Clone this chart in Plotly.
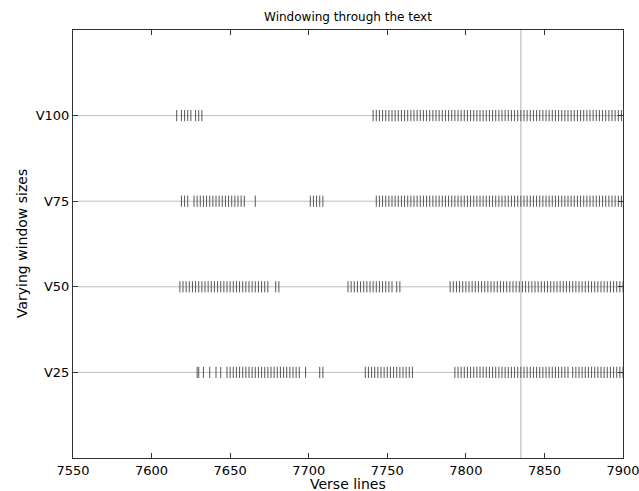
import plotly.graph_objects as go

# window size labels (y categories) and their positions
window_labels = ["V25", "V50", "V75", "V100"]
window_levels = [1, 2, 3, 4]

# runs of verse lines (start, end) flagged in each window size
runs_v25 = [(7629, 7629), (7630, 7630), (7633, 7633), (7637, 7637), (7641, 7641),
            (7644, 7645), (7648, 7694), (7698, 7699), (7707, 7709), (7736, 7766),
            (7793, 7865), (7868, 7900)]
runs_v50 = [(7618, 7675), (7679, 7681), (7725, 7754), (7756, 7758), (7790, 7900)]
runs_v75 = [(7619, 7623), (7627, 7659), (7666, 7666), (7701, 7709), (7743, 7900)]
runs_v100 = [(7616, 7616), (7619, 7626), (7628, 7633), (7741, 7900)]

text_start = 7553
text_end = 7900
current_line = 7835

x_ticks = [7550, 7600, 7650, 7700, 7750, 7800, 7850, 7900]


def expand(runs):
    xs = []
    for a, b in runs:
        xs.extend(range(a, b + 1, 2))
    return xs


all_runs = [runs_v25, runs_v50, runs_v75, runs_v100]

fig = go.Figure()

# baseline for each window size
for lvl in window_levels:
    fig.add_trace(go.Scatter(x=[text_start, text_end], y=[lvl, lvl], mode="lines",
                             line=dict(color="#bdbdbd", width=1), hoverinfo="skip",
                             showlegend=False))

# vertical marker of current position
fig.add_trace(go.Scatter(x=[current_line, current_line], y=[0, 5], mode="lines",
                         line=dict(color="#cccccc", width=1.5), hoverinfo="skip",
                         showlegend=False))

for lvl, runs in zip(window_levels, all_runs):
    xs = expand(runs)
    fig.add_trace(go.Scatter(x=xs, y=[lvl] * len(xs), mode="markers",
                             marker=dict(symbol="line-ns", size=8,
                                         line=dict(color="#444444", width=0.9)),
                             showlegend=False))

font = "DejaVu Sans, sans-serif"
fig.update_layout(
    width=639, height=491,
    margin=dict(l=73, r=16, t=30, b=33),
    plot_bgcolor="white", paper_bgcolor="white",
    font=dict(family=font, size=12, color="black"),
    title=dict(text="Windowing through the text", x=(73 + 623) / 2 / 639, xanchor="center",
               y=1 - 17 / 491, yanchor="middle", font=dict(size=12, family=font)),
    xaxis=dict(range=[7550, 7900], tickvals=x_ticks, ticktext=[str(v) for v in x_ticks],
               ticks="inside", ticklen=5, tickcolor="#333", showgrid=False, zeroline=False,
               showline=True, linecolor="#333", linewidth=1, mirror="ticks",
               tickfont=dict(size=13, family=font), automargin=False,
               ticklabeloverflow="allow"),
    yaxis=dict(range=[0, 5], tickvals=window_levels, ticktext=window_labels,
               ticks="inside", ticklen=5, tickcolor="#333", showgrid=False, zeroline=False,
               showline=True, linecolor="#333", linewidth=1, mirror="ticks",
               tickfont=dict(size=13, family=font), automargin=False),
    annotations=[
        dict(text="Verse lines", xref="paper", yref="paper", x=0.5, y=-26 / 428,
             showarrow=False, font=dict(size=14, family=font), yanchor="middle"),
        dict(text="Varying window sizes", xref="paper", yref="paper", x=-51 / 550,
             y=0.5, textangle=-90, showarrow=False, font=dict(size=14, family=font),
             xanchor="center"),
    ],
)

fig.write_html("out.html", config={"displayModeBar": False},
               post_script="document.body.style.margin='0';document.body.style.padding='0';")
